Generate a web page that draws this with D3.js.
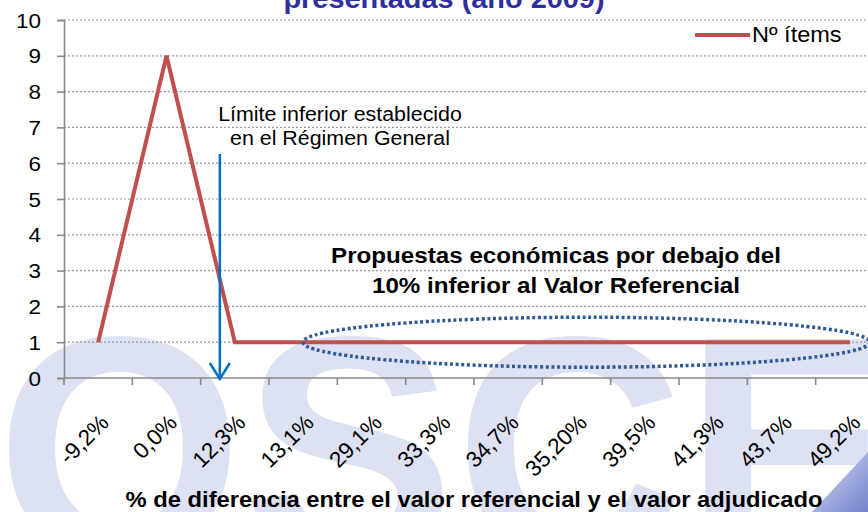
<!DOCTYPE html>
<html><head><meta charset="utf-8">
<script src="https://cdn.jsdelivr.net/npm/d3@7"></script>
<style>body{margin:0;background:#fff}svg{display:block}text{font-family:"Liberation Sans",Arial,sans-serif}</style>
</head><body>
<script>
const categories = ["-9,2%","0,0%","12,3%","13,1%","29,1%","33,3%","34,7%","35,20%","39,5%","41,3%","43,7%","49,2%"];
const itemCounts = [1,9,1,1,1,1,1,1,1,1,1,1];
const yTicks = [0,1,2,3,4,5,6,7,8,9,10];
const seriesName = "Nº ítems";
const titleText = "presentadas (año 2009)";
const xTitle = "% de diferencia entre el valor referencial y el valor adjudicado";
const noteLimit = ["Límite inferior establecido","en el Régimen General"];
const noteBelow = ["Propuestas económicas por debajo del","10% inferior al Valor Referencial"];

const W = 868, H = 512, SX = 1.07;
const svg = d3.select("body").append("svg").attr("width", W).attr("height", H);

// watermark
const defs = svg.append("defs");
const g1 = defs.append("linearGradient").attr("id","sw").attr("x1","0").attr("y1","0").attr("x2","1").attr("y2","1");
g1.append("stop").attr("offset","0").attr("stop-color","#d8def3");
g1.append("stop").attr("offset","1").attr("stop-color","#7382cc");
svg.append("text").attr("x", -4).attr("y", 558).attr("font-size", 318).attr("font-weight","bold")
  .attr("fill","#dce1f3").attr("textLength", 900).attr("lengthAdjust","spacingAndGlyphs").text("OSCE");
svg.append("path").attr("d","M812,512 L868,452 L868,512 Z").attr("fill","url(#sw)");

const x = d3.scaleBand().domain(categories).range([64, 884]);
const y = d3.scaleLinear().domain([0, 10]).range([378, 20]);

function txt(g, x0, y0, s, opts = {}) {
  const sx = opts.rot ? 1 : SX;
  const t = g.append("text")
    .attr("transform", `translate(${x0},${y0}) scale(${sx},1)` + (opts.rot ? ` rotate(${opts.rot})` : ""))
    .attr("font-size", opts.size || 20)
    .attr("font-weight", opts.bold ? "bold" : "normal")
    .attr("fill", opts.fill || "#000")
    .attr("text-anchor", opts.anchor || "middle")
    .text(s);
  if (opts.dy) t.attr("dy", opts.dy);
  return t;
}

// gridlines
svg.append("g").selectAll("line").data(yTicks.filter(d => d > 0)).join("line")
  .attr("x1", 64).attr("x2", W).attr("y1", d => y(d)).attr("y2", d => y(d))
  .attr("stroke", "#9a9a9a").attr("stroke-width", 1.2).attr("stroke-dasharray", "2,2");

// y axis
const yAxis = svg.append("g").attr("transform", "translate(64,0)")
  .call(d3.axisLeft(y).tickValues(yTicks).tickSize(7).tickFormat(""));
yAxis.select(".domain").attr("stroke", "#888").attr("stroke-width", 1.6);
yAxis.selectAll(".tick line").attr("stroke", "#888").attr("stroke-width", 1.6);
yTicks.forEach(v => txt(svg, 41, y(v), String(v), {size: 21, anchor: "end", dy: "0.36em"}));

// x axis
const bounds = categories.map(c => x(c)).concat([x(categories[categories.length-1]) + x.bandwidth()]);
svg.append("line").attr("x1", 64).attr("x2", W).attr("y1", 378).attr("y2", 378).attr("stroke", "#888").attr("stroke-width", 1.6);
svg.append("g").selectAll("line").data(bounds).join("line")
  .attr("x1", d => d).attr("x2", d => d).attr("y1", 378).attr("y2", 385).attr("stroke", "#888").attr("stroke-width", 1.6);
categories.forEach(c => txt(svg, x(c) + x.bandwidth()/2 + 12, 424, c, {size: 22.5, anchor: "end", rot: -45}));

// series line
const line = d3.line().x((d, i) => x(categories[i]) + x.bandwidth()/2).y(d => y(d));
svg.append("path").datum(itemCounts).attr("d", line).attr("fill", "none")
  .attr("stroke", "#c0504d").attr("stroke-width", 4).attr("stroke-linejoin", "miter");

// ellipse annotation
const ex0 = x(categories[3]) + x.bandwidth()/2, ex1 = x(categories[11]) + x.bandwidth()/2 + 20;
svg.append("ellipse").attr("cx", (ex0 + ex1)/2).attr("cy", y(1)).attr("rx", (ex1 - ex0)/2).attr("ry", 25)
  .attr("fill", "none").attr("stroke", "#2f5b97").attr("stroke-width", 3.5).attr("stroke-dasharray", "3,2.6");

// arrow
const ax = x(categories[2]) + x.bandwidth()/2 - 15;
svg.append("line").attr("x1", ax).attr("x2", ax).attr("y1", 154).attr("y2", 379).attr("stroke", "#0070c0").attr("stroke-width", 2.5);
svg.append("path").attr("d", `M${ax-10},363 L${ax},379 L${ax+10},363`).attr("fill", "none").attr("stroke", "#0070c0").attr("stroke-width", 2.5);

// notes
txt(svg, 340, 121, noteLimit[0], {size: 20});
txt(svg, 340, 145, noteLimit[1], {size: 20});
txt(svg, 556, 263, noteBelow[0], {size: 22.6, bold: true});
txt(svg, 556, 293, noteBelow[1], {size: 22.6, bold: true});

// title (cut off)
txt(svg, 444, 8, titleText, {size: 27, bold: true, fill: "#2e2e9e"});

// x title
txt(svg, 474, 507, xTitle, {size: 22.2, bold: true});

// legend
svg.append("line").attr("x1", 695).attr("x2", 750).attr("y1", 35).attr("y2", 35).attr("stroke", "#c0504d").attr("stroke-width", 4);
txt(svg, 752, 42, seriesName, {size: 22, anchor: "start"});
</script>
</body></html>
